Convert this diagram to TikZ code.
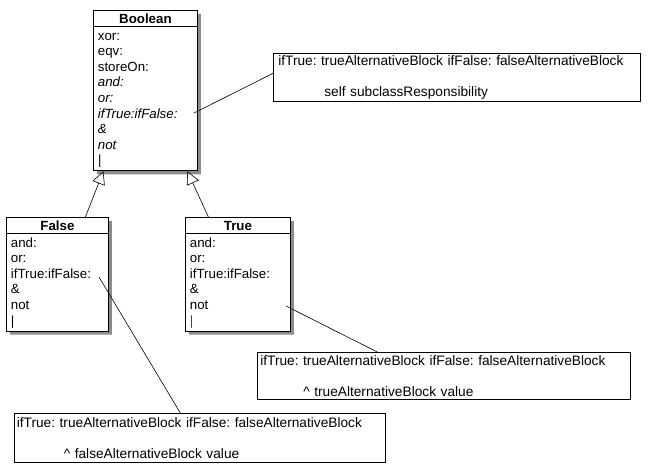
\documentclass[tikz,border=0pt]{standalone}
\usepackage{fontspec}
\setmainfont{Liberation Sans}
\usetikzlibrary{arrows.meta,shapes.multipart,shadows}
\definecolor{barred}{RGB}{150,40,20}
\frenchspacing

\begin{document}
\begin{tikzpicture}[x=1pt,y=-1pt,font=\fontsize{13.3}{15.6}\selectfont]
\tikzstyle{umlclass} = [rectangle split, rectangle split parts=2, draw, line width=0.8pt,
fill=white, drop shadow={shadow xshift=3.5pt,shadow yshift=-3.5pt,opacity=0.6,fill=black!75},
rectangle split part align={center,left}, align=left, anchor=north west,
inner xsep=4.5pt, inner ysep=1pt]
\tikzstyle{note} = [rectangle, draw, line width=0.6pt, anchor=north west,
align=left, inner ysep=1pt, font=\fontsize{13.7}{15.6}\selectfont]
\tikzstyle{inherit} = [draw, line width=0.6pt, -{Triangle[open,length=13pt,width=13pt]}]
\tikzstyle{line} = [draw, line width=0.6pt]

\useasboundingbox (0,0) rectangle (651,469);

% classes
\node [umlclass, minimum width=104pt] (boolean) at (93,10)
{\rule[-1.5pt]{0pt}{13.5pt}\textbf{Boolean}
\nodepart{second}\rule{0pt}{12pt}xor:\\ eqv:\\ storeOn:\\ \textit{and:}\\ \textit{or:}\\
\textit{ifTrue:ifFalse:}\\ \textit{\&}\\ \textit{not}\\ \textit{|}\rule[-4.5pt]{0pt}{4.5pt}};
\node [umlclass, minimum width=102pt] (falseCls) at (6,217)
{\rule[-1.5pt]{0pt}{13.5pt}\textbf{False}
\nodepart{second}\rule{0pt}{12pt}and:\\ or:\\ ifTrue:ifFalse:\\ \&\\ not\\ |\rule[-4.5pt]{0pt}{4.5pt}};
\node [umlclass, minimum width=105pt] (trueCls) at (185,217)
{\rule[-1.5pt]{0pt}{13.5pt}\textbf{True}
\nodepart{second}\rule{0pt}{12pt}and:\\ or:\\ ifTrue:ifFalse:\\ \&\\ not\\ \textcolor{barred}{|}\rule[-4.5pt]{0pt}{4.5pt}};

% notes
\node [note, inner xsep=5pt, text width=357pt, minimum height=48pt] (noteBool) at (273,53)
{ifTrue: trueAlternativeBlock ifFalse: falseAlternativeBlock\\[15.5pt]
\hspace*{46pt}self subclassResponsibility};
\node [note, inner xsep=3pt, text width=367pt, minimum height=47pt] (noteTrue) at (257,352)
{ifTrue: trueAlternativeBlock ifFalse: falseAlternativeBlock\\[15.5pt]
\hspace*{43pt}\textasciicircum{} trueAlternativeBlock value};
\node [note, inner xsep=2.5pt, text width=366pt, minimum height=49pt] (noteFalse) at (14,413)
{ifTrue: trueAlternativeBlock ifFalse: falseAlternativeBlock\\[15.5pt]
\hspace*{47pt}\textasciicircum{} falseAlternativeBlock value};

\coordinate (boolIf) at (194,113);
\coordinate (falseIf) at (99,277);
\coordinate (trueNot) at (286,306);

\path [inherit] ([xshift=28pt]falseCls.north) -- ([xshift=-42pt]boolean.south);
\path [inherit] ([xshift=-29.5pt]trueCls.north) -- ([xshift=42pt]boolean.south);
\path [line] (boolIf) -- ([yshift=4pt]noteBool.west);
\path [line] (trueNot) -- ([xshift=-66.5pt]noteTrue.north);
\path [line] (falseIf) -- ([xshift=-19.5pt]noteFalse.north);

\end{tikzpicture}
\end{document}
